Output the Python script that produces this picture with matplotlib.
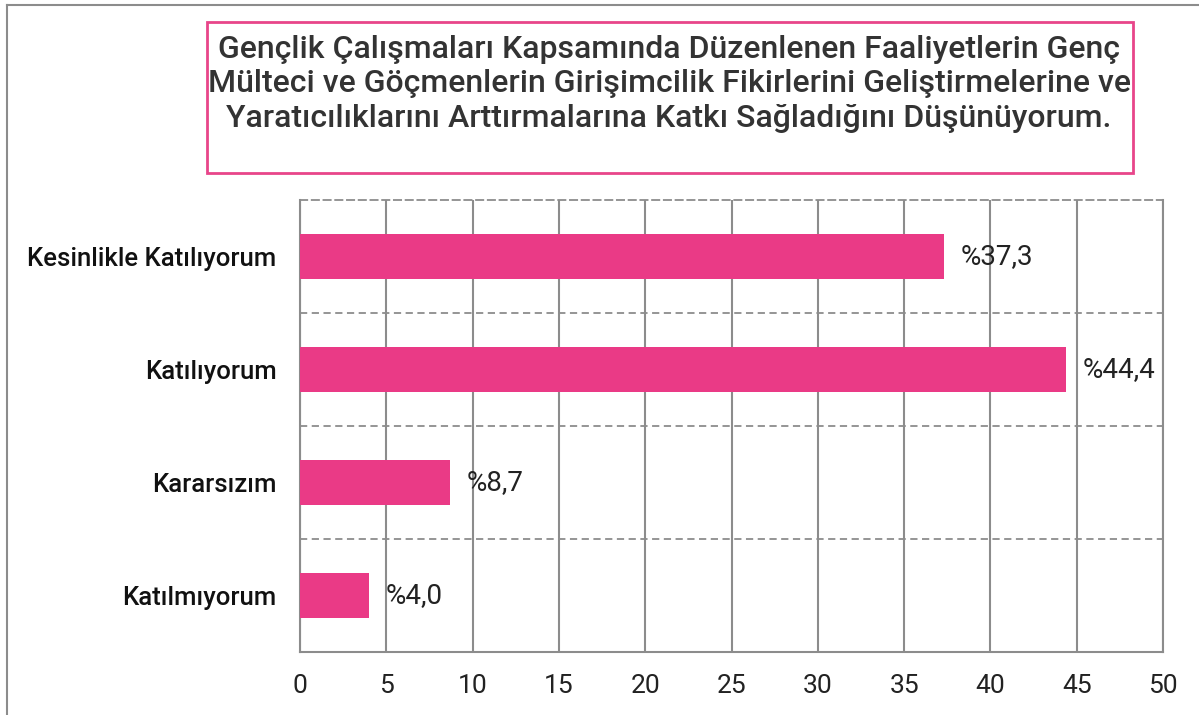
import matplotlib
matplotlib.use("Agg")
import matplotlib.pyplot as plt
from matplotlib.patches import Rectangle
from matplotlib.lines import Line2D

# data
categories = ["Kesinlikle Katılıyorum", "Katılıyorum", "Kararsızım", "Katılmıyorum"]
values = [37.3, 44.4, 8.7, 4.0]
value_labels = ["%37,3", "%44,4", "%8,7", "%4,0"]
xticks = [0, 5, 10, 15, 20, 25, 30, 35, 40, 45, 50]
title = ("Gençlik Çalışmaları Kapsamında Düzenlenen Faaliyetlerin Genç\n"
         "Mülteci ve Göçmenlerin Girişimcilik Fikirlerini Geliştirmelerine ve\n"
         "Yaratıcılıklarını Arttırmalarına Katkı Sağladığını Düşünüyorum.")

plt.rcParams['font.family'] = ['Roboto', 'DejaVu Sans']

pink = "#EA3A86"
grid = "#8C8C8C"

fig = plt.figure(figsize=(11.99, 7.15), dpi=100)
ax = fig.add_axes([300/1199, 1 - 652/715, 863/1199, 452/715])

ypos = list(range(len(categories)))
ax.barh(ypos, values, height=0.39, color=pink, zorder=3)
for y, v, lab in zip(ypos, values, value_labels):
    ax.annotate(lab, (v, y), xytext=(12, 0), textcoords="offset points",
                va="center", ha="left", fontsize=20, color="#222222", zorder=4)

ax.set_xlim(0, 50)
ax.set_ylim(3.5, -0.5)
ax.set_xticks(xticks)
ax.set_xticklabels([str(t) for t in xticks], fontsize=19, color="#222222")
ax.set_yticks(ypos)
ax.set_yticklabels(categories, fontsize=18.5, fontweight="medium", color="#111111")
ax.set_yticks([0.5, 1.5, 2.5], minor=True)
ax.tick_params(axis="both", which="both", length=0)
ax.tick_params(axis="x", pad=16)
ax.tick_params(axis="y", pad=17)

ax.grid(axis="x", which="major", color=grid, linewidth=1.5, linestyle="-", zorder=1)
ax.grid(axis="y", which="minor", color=grid, linewidth=1.3, linestyle=(0, (4, 2.5)), zorder=1)
ax.grid(axis="y", which="major", visible=False)

for side in ["left", "bottom", "right"]:
    ax.spines[side].set_color(grid)
    ax.spines[side].set_linewidth(1.5)
ax.spines["top"].set_color(grid)
ax.spines["top"].set_linewidth(1.3)
ax.spines["top"].set_linestyle((0, (4, 2.5)))

# title box
W, H = 1199, 715
fig.add_artist(Rectangle((207/W, 1 - 173/H), (1133-207)/W, (173-22)/H,
                         transform=fig.transFigure, fill=False,
                         edgecolor="#E8458A", linewidth=2))
fig.text(669/W, 1 - 84/H, title, ha="center", va="center", fontsize=23,
         fontweight="medium", color="#333333", linespacing=1.25)

# outer chart border
fig.add_artist(Line2D([7/W, 1.0], [1 - 5/H, 1 - 5/H], transform=fig.transFigure,
                      color=grid, linewidth=1.5))
fig.add_artist(Line2D([7/W, 7/W], [0, 1 - 5/H], transform=fig.transFigure,
                      color=grid, linewidth=1.5))

fig.savefig("out.png", dpi=100)
